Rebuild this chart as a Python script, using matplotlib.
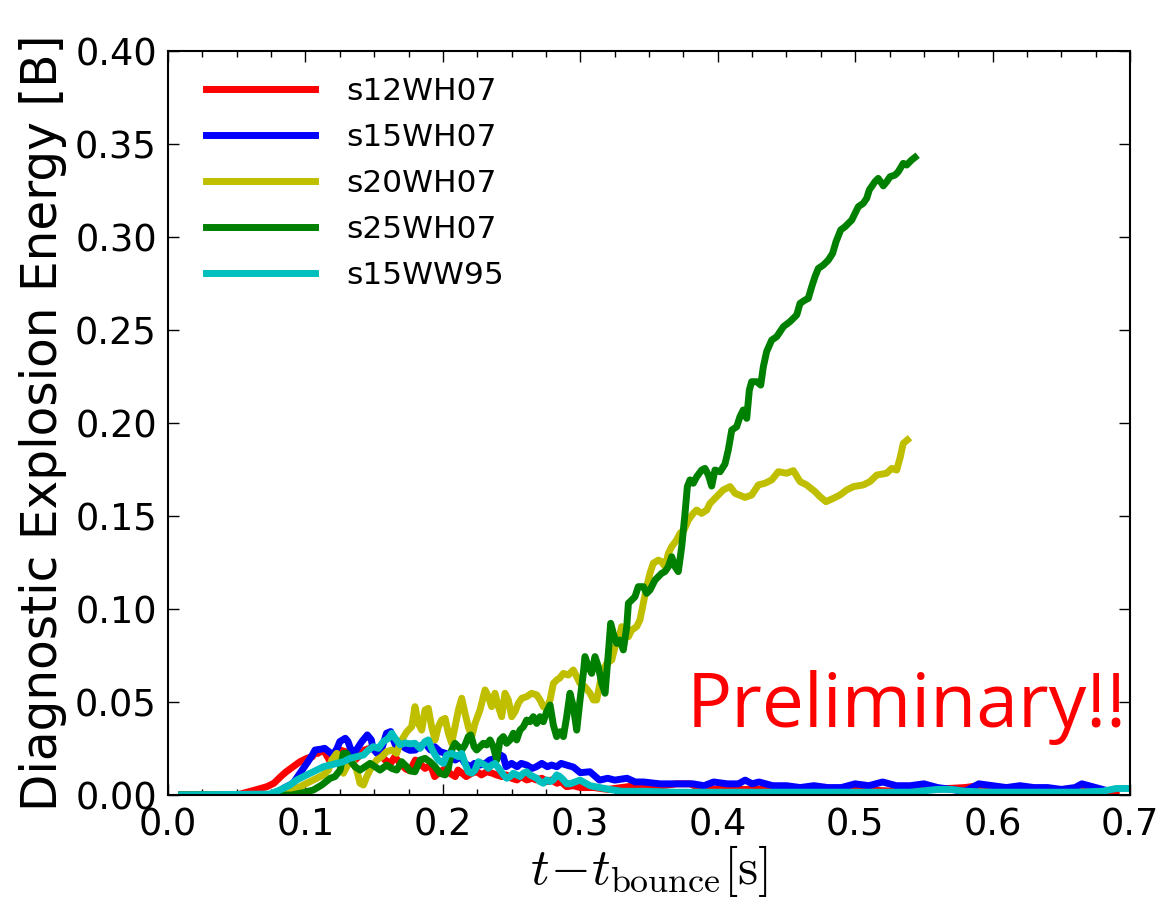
import matplotlib
matplotlib.use("Agg")
import matplotlib.pyplot as plt
from matplotlib.ticker import MultipleLocator, FormatStrFormatter

plt.rcParams["font.family"] = ["DejaVu Sans"]
plt.rcParams["mathtext.fontset"] = "cm"

labels = ["s12WH07", "s15WH07", "s20WH07", "s25WH07", "s15WW95"]
colors = ["#ff0000", "#0000ff", "#bfbf00", "#008000", "#00bfbf"]

# s12WH07
red_t = [0.010, 0.050, 0.065, 0.072, 0.077, 0.082, 0.086, 0.091, 0.096, 0.101,
         0.105, 0.107, 0.109, 0.113, 0.116, 0.118, 0.122, 0.125, 0.129, 0.132,
         0.136, 0.140, 0.143, 0.147, 0.151, 0.154, 0.158, 0.162, 0.165, 0.169,
         0.173, 0.176, 0.180, 0.183, 0.187, 0.191, 0.194, 0.198, 0.202, 0.205,
         0.209, 0.211, 0.214, 0.217, 0.221, 0.225, 0.228, 0.232, 0.236, 0.239,
         0.243, 0.246, 0.250, 0.254, 0.257, 0.261, 0.265, 0.268, 0.272, 0.276,
         0.279, 0.283, 0.286, 0.290, 0.295, 0.300, 0.310, 0.320, 0.330, 0.340,
         0.350, 0.360, 0.370, 0.380, 0.386, 0.400, 0.420, 0.450, 0.480, 0.500,
         0.530, 0.555, 0.580, 0.590, 0.600, 0.630, 0.660, 0.690]
red_e = [0.0, 0.0, 0.0030, 0.0045, 0.0063, 0.0099, 0.0125, 0.0152, 0.0179, 0.0197,
         0.0206, 0.0233, 0.0224, 0.0242, 0.0206, 0.0179, 0.0215, 0.0242, 0.0233, 0.0206,
         0.0188, 0.0215, 0.0242, 0.0251, 0.0242, 0.0224, 0.0188, 0.0170, 0.0206, 0.0170,
         0.0140, 0.0130, 0.0188, 0.0170, 0.0143, 0.0161, 0.0099, 0.0125, 0.0143, 0.0117,
         0.0099, 0.0134, 0.0117, 0.0099, 0.0117, 0.0125, 0.0108, 0.0125, 0.0117, 0.0108,
         0.0099, 0.0108, 0.0090, 0.0081, 0.0099, 0.0081, 0.0090, 0.0081, 0.0090, 0.0072,
         0.0081, 0.0063, 0.0072, 0.0045, 0.0050, 0.0040, 0.0040, 0.0030, 0.0040, 0.0050,
         0.0040, 0.0050, 0.0060, 0.0060, 0.0040, 0.0030, 0.0030, 0.0030, 0.0030, 0.0030,
         0.0020, 0.0030, 0.0040, 0.0050, 0.0030, 0.0020, 0.0030, 0.0020]

# s15WH07
blue_t = [0.010, 0.077, 0.084, 0.091, 0.096, 0.101, 0.105, 0.107, 0.111, 0.114,
          0.117, 0.120, 0.123, 0.125, 0.129, 0.131, 0.134, 0.137, 0.141, 0.145,
          0.148, 0.149, 0.152, 0.156, 0.159, 0.162, 0.164, 0.166, 0.169, 0.173,
          0.176, 0.180, 0.183, 0.187, 0.191, 0.194, 0.198, 0.202, 0.205, 0.209,
          0.213, 0.216, 0.220, 0.223, 0.227, 0.231, 0.234, 0.238, 0.242, 0.244,
          0.246, 0.250, 0.254, 0.257, 0.261, 0.265, 0.268, 0.272, 0.276, 0.279,
          0.283, 0.286, 0.290, 0.295, 0.300, 0.307, 0.314, 0.320, 0.325, 0.334,
          0.340, 0.346, 0.358, 0.370, 0.382, 0.390, 0.397, 0.407, 0.415, 0.420,
          0.425, 0.430, 0.440, 0.450, 0.460, 0.470, 0.480, 0.490, 0.500, 0.510,
          0.520, 0.530, 0.540, 0.550, 0.560, 0.570, 0.580, 0.585, 0.590, 0.600,
          0.610, 0.620, 0.630, 0.640, 0.650, 0.660, 0.665, 0.670, 0.680]
blue_e = [0.0, 0.0, 0.0036, 0.0063, 0.0117, 0.0170, 0.0215, 0.0242, 0.0246, 0.0251,
          0.0233, 0.0215, 0.0251, 0.0287, 0.0305, 0.0287, 0.0224, 0.0242, 0.0287, 0.0323,
          0.0296, 0.0251, 0.0224, 0.0260, 0.0332, 0.0341, 0.0296, 0.0260, 0.0270, 0.0250,
          0.0240, 0.0242, 0.0260, 0.0278, 0.0242, 0.0260, 0.0233, 0.0224, 0.0215, 0.0188,
          0.0206, 0.0170, 0.0152, 0.0170, 0.0161, 0.0170, 0.0188, 0.0197, 0.0215, 0.0206,
          0.0152, 0.0170, 0.0152, 0.0170, 0.0161, 0.0143, 0.0152, 0.0170, 0.0152, 0.0161,
          0.0152, 0.0170, 0.0161, 0.0150, 0.0120, 0.0125, 0.0080, 0.0090, 0.0080, 0.0090,
          0.0070, 0.0070, 0.0060, 0.0060, 0.0060, 0.0050, 0.0070, 0.0060, 0.0060, 0.0080,
          0.0060, 0.0070, 0.0050, 0.0050, 0.0040, 0.0050, 0.0040, 0.0040, 0.0060, 0.0050,
          0.0070, 0.0050, 0.0050, 0.0060, 0.0040, 0.0030, 0.0020, 0.0040, 0.0060, 0.0050,
          0.0040, 0.0050, 0.0040, 0.0040, 0.0030, 0.0040, 0.0060, 0.0050, 0.0030]

# s20WH07
yel_t = [0.010, 0.080, 0.0815, 0.0912, 0.0985, 0.1058, 0.1131, 0.1167, 0.1191, 0.1228,
         0.1252, 0.1276, 0.1300, 0.1337, 0.1373, 0.1397, 0.1422, 0.1446, 0.1482, 0.1518,
         0.1555, 0.1591, 0.1628, 0.1664, 0.1688, 0.1737, 0.1773, 0.1797, 0.1821, 0.1846,
         0.1870, 0.1894, 0.1918, 0.1943, 0.1967, 0.1991, 0.2016, 0.2040, 0.2064, 0.2088,
         0.2113, 0.2137, 0.2161, 0.2185, 0.2210, 0.2234, 0.2270, 0.2307, 0.2331, 0.2355,
         0.2379, 0.2404, 0.2428, 0.2452, 0.2476, 0.2501, 0.2525, 0.2549, 0.2574, 0.2610,
         0.2646, 0.2683, 0.2707, 0.2731, 0.2755, 0.2780, 0.2804, 0.2828, 0.2852, 0.2877,
         0.2913, 0.2949, 0.2974, 0.2998, 0.3034, 0.3071, 0.3095, 0.3119, 0.3143, 0.3168,
         0.3192, 0.3229, 0.3253, 0.3277, 0.3301, 0.3325, 0.3350, 0.3374, 0.3410, 0.3434,
         0.3459, 0.3483, 0.3507, 0.3531, 0.3568, 0.3592, 0.3616, 0.3641, 0.3665, 0.3701,
         0.3726, 0.3755, 0.3786, 0.3822, 0.3847, 0.3883, 0.3920, 0.3944, 0.3968, 0.4004,
         0.4040, 0.4090, 0.4126, 0.4199, 0.4247, 0.4296, 0.4344, 0.4393, 0.4441, 0.4502,
         0.4550, 0.4599, 0.4647, 0.4708, 0.4744, 0.4788, 0.4841, 0.4890, 0.4938, 0.4987,
         0.5059, 0.5108, 0.5157, 0.5229, 0.5266, 0.5302, 0.5326, 0.5350, 0.5380]
yel_e = [0.0, 0.0, 0.0013, 0.0027, 0.0054, 0.0081, 0.0108, 0.0134, 0.0188, 0.0224,
         0.0188, 0.0117, 0.0152, 0.0188, 0.0134, 0.0063, 0.0054, 0.0099, 0.0152, 0.0188,
         0.0206, 0.0233, 0.0242, 0.0224, 0.0280, 0.0340, 0.0367, 0.0475, 0.0385, 0.0349,
         0.0457, 0.0466, 0.0367, 0.0296, 0.0367, 0.0403, 0.0412, 0.0332, 0.0278, 0.0367,
         0.0457, 0.0520, 0.0439, 0.0367, 0.0314, 0.0385, 0.0457, 0.0565, 0.0529, 0.0475,
         0.0547, 0.0475, 0.0421, 0.0547, 0.0511, 0.0421, 0.0448, 0.0493, 0.0520, 0.0529,
         0.0547, 0.0538, 0.0511, 0.0475, 0.0466, 0.0511, 0.0600, 0.0618, 0.0630, 0.0654,
         0.0645, 0.0672, 0.0636, 0.0600, 0.0582, 0.0547, 0.0511, 0.0511, 0.0600, 0.0672,
         0.0708, 0.0726, 0.0797, 0.0833, 0.0905, 0.0887, 0.0851, 0.0887, 0.0905, 0.0941,
         0.1031, 0.1120, 0.1192, 0.1246, 0.1263, 0.1254, 0.1228, 0.1299, 0.1335, 0.1371,
         0.1407, 0.1425, 0.1478, 0.1514, 0.1532, 0.1514, 0.1532, 0.1568, 0.1586, 0.1613,
         0.1640, 0.1658, 0.1622, 0.1600, 0.1613, 0.1667, 0.1676, 0.1694, 0.1738, 0.1730,
         0.1744, 0.1685, 0.1667, 0.1631, 0.1604, 0.1577, 0.1595, 0.1613, 0.1640, 0.1658,
         0.1667, 0.1685, 0.1720, 0.1730, 0.1756, 0.1747, 0.1810, 0.1890, 0.1909]

# s25WH07
grn_t = [0.010, 0.090, 0.0985, 0.1058, 0.1119, 0.1180, 0.1215, 0.1252, 0.1276, 0.1300,
         0.1324, 0.1361, 0.1397, 0.1434, 0.1470, 0.1506, 0.1543, 0.1591, 0.1628, 0.1664,
         0.1700, 0.1737, 0.1761, 0.1797, 0.1834, 0.1870, 0.1906, 0.1943, 0.1979, 0.2016,
         0.2040, 0.2064, 0.2088, 0.2113, 0.2137, 0.2161, 0.2185, 0.2203, 0.2227, 0.2246,
         0.2270, 0.2294, 0.2319, 0.2343, 0.2367, 0.2392, 0.2416, 0.2440, 0.2464, 0.2489,
         0.2513, 0.2537, 0.2561, 0.2586, 0.2610, 0.2634, 0.2658, 0.2683, 0.2707, 0.2731,
         0.2755, 0.2780, 0.2804, 0.2828, 0.2852, 0.2877, 0.2901, 0.2925, 0.2949, 0.2974,
         0.2998, 0.3022, 0.3034, 0.3059, 0.3083, 0.3107, 0.3131, 0.3156, 0.3180, 0.3204,
         0.3221, 0.3240, 0.3265, 0.3289, 0.3313, 0.3338, 0.3350, 0.3374, 0.3398, 0.3422,
         0.3459, 0.3483, 0.3507, 0.3544, 0.3568, 0.3592, 0.3616, 0.3641, 0.3665, 0.3689,
         0.3713, 0.3738, 0.3762, 0.3779, 0.3798, 0.3822, 0.3847, 0.3883, 0.3907, 0.3932,
         0.3956, 0.3980, 0.4017, 0.4053, 0.4077, 0.4102, 0.4138, 0.4162, 0.4186, 0.4211,
         0.4230, 0.4247, 0.4284, 0.4313, 0.4332, 0.4356, 0.4393, 0.4429, 0.4478, 0.4526,
         0.4575, 0.4599, 0.4635, 0.4659, 0.4684, 0.4708, 0.4732, 0.4768, 0.4805, 0.4836,
         0.4861, 0.4895, 0.4926, 0.4975, 0.4999, 0.5023, 0.5059, 0.5084, 0.5103, 0.5144,
         0.5168, 0.5193, 0.5205, 0.5229, 0.5254, 0.5290, 0.5314, 0.5350, 0.5375, 0.5411,
         0.5435]
grn_e = [0.0, 0.0, 0.0013, 0.0027, 0.0054, 0.0090, 0.0099, 0.0134, 0.0224, 0.0224,
         0.0188, 0.0152, 0.0134, 0.0152, 0.0170, 0.0152, 0.0134, 0.0161, 0.0143, 0.0134,
         0.0179, 0.0152, 0.0130, 0.0125, 0.0188, 0.0197, 0.0179, 0.0152, 0.0117, 0.0108,
         0.0143, 0.0242, 0.0278, 0.0260, 0.0242, 0.0269, 0.0314, 0.0323, 0.0260, 0.0242,
         0.0260, 0.0278, 0.0269, 0.0296, 0.0260, 0.0188, 0.0296, 0.0314, 0.0278, 0.0296,
         0.0332, 0.0296, 0.0349, 0.0367, 0.0403, 0.0394, 0.0421, 0.0385, 0.0421, 0.0394,
         0.0448, 0.0484, 0.0376, 0.0314, 0.0340, 0.0314, 0.0421, 0.0547, 0.0475, 0.0349,
         0.0511, 0.0654, 0.0744, 0.0690, 0.0654, 0.0744, 0.0690, 0.0600, 0.0547, 0.0762,
         0.0923, 0.0869, 0.0815, 0.0833, 0.0780, 0.0905, 0.1031, 0.1048, 0.1066, 0.1120,
         0.1120, 0.1084, 0.1102, 0.1156, 0.1174, 0.1192, 0.1201, 0.1228, 0.1281, 0.1228,
         0.1201, 0.1335, 0.1514, 0.1658, 0.1694, 0.1676, 0.1711, 0.1747, 0.1756, 0.1720,
         0.1661, 0.1747, 0.1738, 0.1780, 0.1855, 0.1962, 0.1980, 0.2034, 0.2070, 0.2025,
         0.2177, 0.2222, 0.2222, 0.2204, 0.2303, 0.2384, 0.2446, 0.2464, 0.2518, 0.2545,
         0.2581, 0.2643, 0.2661, 0.2670, 0.2733, 0.2787, 0.2831, 0.2849, 0.2876, 0.2912,
         0.2975, 0.3038, 0.3055, 0.3091, 0.3127, 0.3163, 0.3181, 0.3208, 0.3253, 0.3297,
         0.3315, 0.3289, 0.3275, 0.3297, 0.3324, 0.3333, 0.3351, 0.3396, 0.3387, 0.3414,
         0.3428]

# s15WW95
cyan_t = [0.010, 0.074, 0.0815, 0.0888, 0.0937, 0.0985, 0.1034, 0.1082, 0.1131, 0.1180,
          0.1228, 0.1276, 0.1324, 0.1373, 0.1422, 0.1458, 0.1494, 0.1531, 0.1567, 0.1604,
          0.1628, 0.1652, 0.1688, 0.1725, 0.1761, 0.1797, 0.1834, 0.1870, 0.1894, 0.1918,
          0.1943, 0.1967, 0.2004, 0.2028, 0.2064, 0.2088, 0.2113, 0.2137, 0.2161, 0.2185,
          0.2210, 0.2234, 0.2258, 0.2282, 0.2307, 0.2331, 0.2355, 0.2379, 0.2416, 0.2440,
          0.2464, 0.2489, 0.2513, 0.2537, 0.2561, 0.2586, 0.2610, 0.2634, 0.2658, 0.2683,
          0.2707, 0.2731, 0.2755, 0.2780, 0.2804, 0.2828, 0.2852, 0.2877, 0.2901, 0.2925,
          0.2998, 0.3071, 0.3140, 0.3216, 0.3300, 0.3460, 0.3700, 0.4000, 0.4500, 0.5000,
          0.5400, 0.5600, 0.5700, 0.5800, 0.6000, 0.6300, 0.6600, 0.6800, 0.6900, 0.7000]
cyan_e = [0.0, 0.0005, 0.0027, 0.0054, 0.0081, 0.0099, 0.0117, 0.0134, 0.0152, 0.0161,
          0.0170, 0.0179, 0.0197, 0.0206, 0.0215, 0.0242, 0.0260, 0.0251, 0.0287, 0.0305,
          0.0332, 0.0305, 0.0270, 0.0280, 0.0275, 0.0278, 0.0251, 0.0287, 0.0296, 0.0251,
          0.0215, 0.0188, 0.0170, 0.0215, 0.0224, 0.0215, 0.0206, 0.0224, 0.0170, 0.0125,
          0.0117, 0.0134, 0.0179, 0.0170, 0.0161, 0.0143, 0.0161, 0.0170, 0.0134, 0.0108,
          0.0090, 0.0099, 0.0117, 0.0108, 0.0099, 0.0117, 0.0125, 0.0108, 0.0099, 0.0090,
          0.0072, 0.0063, 0.0081, 0.0072, 0.0081, 0.0108, 0.0099, 0.0081, 0.0060, 0.0060,
          0.0080, 0.0050, 0.0040, 0.0030, 0.0020, 0.0020, 0.0015, 0.0015, 0.0015, 0.0015,
          0.0015, 0.0030, 0.0030, 0.0020, 0.0015, 0.0015, 0.0015, 0.0020, 0.0035, 0.0035]

series = [(red_t, red_e), (blue_t, blue_e), (yel_t, yel_e), (grn_t, grn_e), (cyan_t, cyan_e)]

fig = plt.figure(figsize=(11.75, 8.98), dpi=100)
ax = fig.add_axes([0.143, 0.1147, 0.8187, 0.8285])

for (t, e), lab, col in zip(series, labels, colors):
    ax.plot(t, e, color=col, lw=5, label=lab)

ax.set_xlim(0.0, 0.7)
ax.set_ylim(0.0, 0.4)
ax.xaxis.set_major_locator(MultipleLocator(0.1))
ax.xaxis.set_minor_locator(MultipleLocator(0.025))
ax.yaxis.set_major_locator(MultipleLocator(0.05))
ax.xaxis.set_major_formatter(FormatStrFormatter("%.1f"))
ax.yaxis.set_major_formatter(FormatStrFormatter("%.2f"))
ax.tick_params(which="both", direction="in", top=True, right=True)
ax.tick_params(which="major", length=8, width=1, labelsize=26.5, pad=8)
ax.tick_params(which="minor", length=4, width=1)
for sp in ax.spines.values():
    sp.set_linewidth(1.5)

ax.set_xlabel(r"$t\!-\!t_{\rm bounce}[{\rm s}]$", fontsize=37, labelpad=0)
ax.set_ylabel("Diagnostic Explosion Energy [B]", fontsize=35, labelpad=6)

ax.legend(loc="upper left", bbox_to_anchor=(0.0, 1.016), frameon=False,
          fontsize=22.5, handlelength=3.5, handletextpad=1.0,
          labelspacing=0.55, borderaxespad=0.8)

ax.text(0.5395, 0.0914, "Preliminary!!", transform=ax.transAxes, color="red",
        fontsize=54, family=["Open Sans", "DejaVu Sans"], va="baseline", ha="left")

fig.savefig("out.png", dpi=100)
